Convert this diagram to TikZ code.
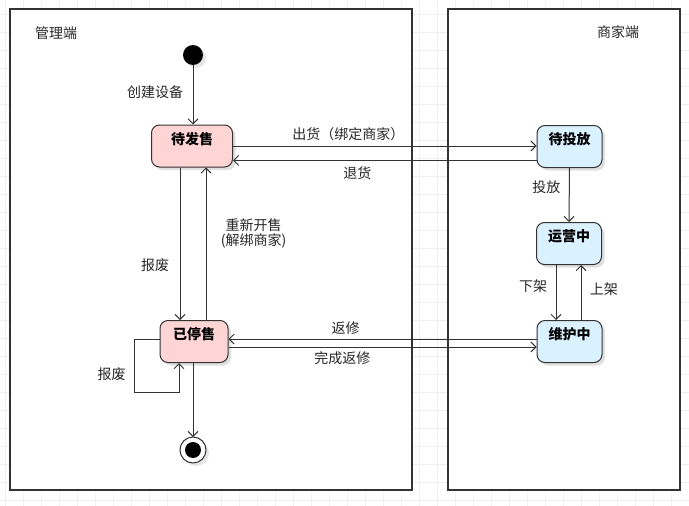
\documentclass[tikz,border=0pt]{standalone}
\usepackage{fontspec}
\setmainfont{Noto Sans CJK SC}
\usepackage{xcolor}
\usepackage{tikz}
\usetikzlibrary{arrows.meta, shadows}

\definecolor{pinkfill}{RGB}{255,212,212}
\definecolor{bluefill}{RGB}{218,242,255}
\definecolor{edge}{RGB}{51,51,51}
\definecolor{gridc}{RGB}{240,240,240}

\begin{document}
\begin{tikzpicture}[
    x=1pt, y=-1pt,
    stbox/.style={draw=edge, rounded corners=8pt, line width=1pt,
        font=\fontsize{14}{16}\selectfont\bfseries, inner sep=0pt,
        text height=19pt, text depth=23pt,
        drop shadow={shadow xshift=3pt, shadow yshift=-3pt, fill=black, opacity=0.12}},
    mgr/.style={stbox, fill=pinkfill},
    shop/.style={stbox, fill=bluefill, minimum width=65pt},
    frame/.style={draw=edge, fill=white, line width=1.2pt},
    arr/.style={-{Straight Barb[length=5pt, width=10pt]}, draw=edge, line width=1pt},
    lbl/.style={font=\fontsize{14}{16}\selectfont, text=black!85},
]
\useasboundingbox (0,0) rectangle (689,506);
\fill[white] (0,0) rectangle (689,506);

% ---- background grid ----
\foreach \gx in {5,23,...,689}
    \draw[gridc, line width=0.6pt] (\gx,0) -- (\gx,506);
\foreach \gy in {14,32,...,506}
    \draw[gridc, line width=0.6pt] (0,\gy) -- (689,\gy);

% ---- swimlane frames ----
\draw[frame] (10,9) rectangle (412,490);
\draw[frame] (448,9) rectangle (680,490);
\node[lbl] (lmgr) at (56,33) {管理端};
\node[lbl] (lshop) at (618,32) {商家端};

% ---- admin side ----
\fill[black, drop shadow={shadow xshift=3pt, shadow yshift=-3pt, fill=black, opacity=0.1}]
    (193,55) circle (10);
\coordinate (start) at (193,65);
\node[mgr, minimum width=81pt] (pend) at (192,146) {待发售};
\node[mgr, minimum width=68pt] (stop) at (194,341.5) {已停售};
\draw[draw=edge, fill=white, line width=1pt,
    drop shadow={shadow xshift=3pt, shadow yshift=-3pt, fill=black, opacity=0.1}]
    (193,450) circle (13);
\fill[black] (193,450) circle (8);
\coordinate (fin) at (193,437);

% ---- shop side ----
\node[shop] (wait) at (569.5,146.5) {待投放};
\node[shop] (run) at (569,243.5) {运营中};
\node[shop] (fix) at (569.5,341.5) {维护中};

% ---- admin arrows ----
\draw[arr] (start) -- (pend.north -| start)
    node[lbl, pos=0.45, left=6pt] {创建设备};
\draw[arr] ([xshift=-12pt]pend.south) -- ([xshift=-12pt]pend.south |- stop.north)
    node[lbl, pos=0.64, left=7pt] {报废};
\draw[arr] ([xshift=14pt]pend.south |- stop.north) -- ([xshift=14pt]pend.south)
    node[lbl, pos=0.57, right=11pt, align=center, font=\fontsize{14}{15}\selectfont]
    {重新开售\\(解绑商家)};
\draw[arr] ([yshift=2.5pt]stop.west) -- ++(-25,0) -- ++(0,53)
    node[lbl, midway, left=5pt, yshift=-9pt] {报废}
    -| ([xshift=-15pt]stop.south);
\draw[arr] (stop.south -| fin) -- (fin);

% ---- cross-lane arrows ----
\draw[arr] (pend.east) -- (pend.east -| wait.west)
    node[lbl, pos=0.38, above=1pt] {出货（绑定商家）};
\draw[arr] ([yshift=-14pt]wait.west) -- ([yshift=-14pt]wait.west -| pend.east)
    node[lbl, pos=0.59, below=2pt] {退货};
\draw[arr] ([yshift=2.5pt]fix.west) -- ([yshift=2.5pt]fix.west -| stop.east)
    node[lbl, pos=0.62, above=1pt] {返修};
\draw[arr] ([yshift=-5.5pt]stop.east) -- ([yshift=-5.5pt]stop.east -| fix.west)
    node[lbl, pos=0.37, below=1pt] {完成返修};

% ---- shop arrows ----
\draw[arr] (wait.south) -- (run.north)
    node[lbl, pos=0.35, left=5pt] {投放};
\draw[arr] ([xshift=-13pt]run.south) -- ([xshift=-13pt]run.south |- fix.north)
    node[lbl, pos=0.38, left=5pt] {下架};
\draw[arr] ([xshift=12pt]run.south |- fix.north) -- ([xshift=12pt]run.south)
    node[lbl, pos=0.56, right=5pt] {上架};

\end{tikzpicture}
\end{document}
